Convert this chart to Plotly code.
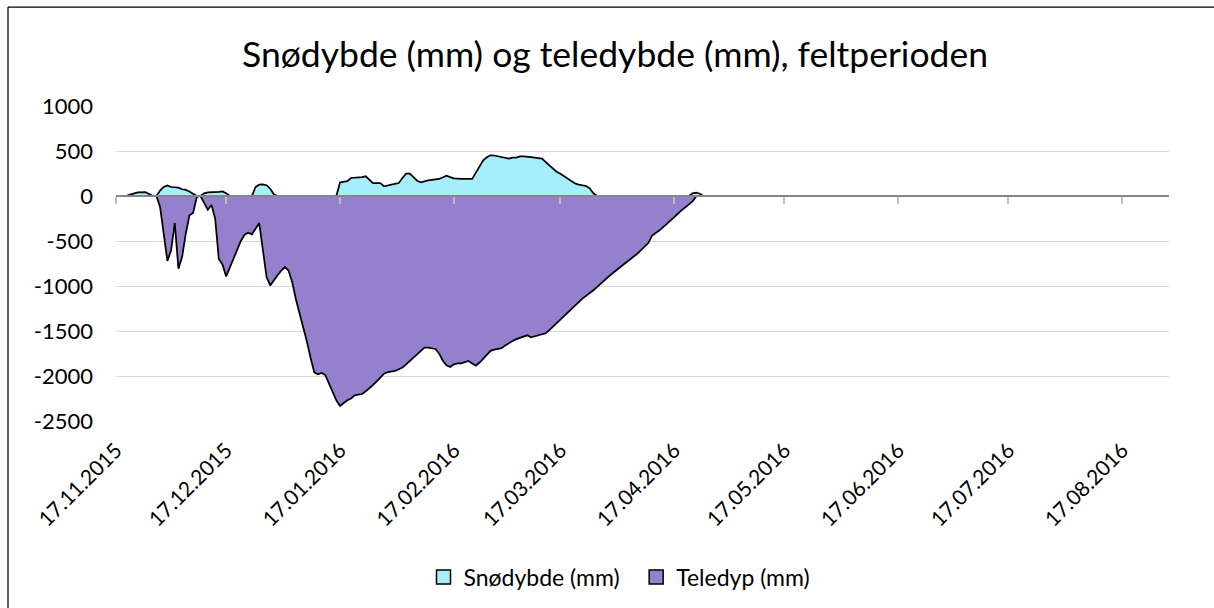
import plotly.graph_objects as go

# ---- data ----
snow_dates = ["2015-11-17","2015-11-20","2015-11-22","2015-11-23","2015-11-25","2015-11-26","2015-11-27",
    "2015-11-28","2015-11-29","2015-11-30","2015-12-01","2015-12-02","2015-12-03","2015-12-04","2015-12-05",
    "2015-12-06","2015-12-07","2015-12-08","2015-12-09","2015-12-10","2015-12-11","2015-12-12","2015-12-14",
    "2015-12-15","2015-12-16","2015-12-17","2015-12-18","2015-12-24","2015-12-25","2015-12-26","2015-12-27",
    "2015-12-28","2015-12-29","2015-12-30","2015-12-31","2016-01-16","2016-01-17","2016-01-18","2016-01-19",
    "2016-01-20","2016-01-22","2016-01-23","2016-01-24","2016-01-25","2016-01-26","2016-01-28","2016-01-29",
    "2016-01-31","2016-02-02","2016-02-03","2016-02-04","2016-02-05","2016-02-06","2016-02-07","2016-02-08",
    "2016-02-10","2016-02-13","2016-02-15","2016-02-16","2016-02-17","2016-02-19","2016-02-22","2016-02-23",
    "2016-02-24","2016-02-25","2016-02-26","2016-02-27","2016-02-28","2016-02-29","2016-03-02","2016-03-03",
    "2016-03-04","2016-03-05","2016-03-06","2016-03-07","2016-03-09","2016-03-11","2016-03-12","2016-03-14",
    "2016-03-16","2016-03-17","2016-03-19","2016-03-21","2016-03-22","2016-03-24","2016-03-25","2016-03-26",
    "2016-03-27","2016-04-21","2016-04-22","2016-04-23","2016-04-24","2016-04-25","2016-08-29"]
snow_mm = [0,5,30,40,44,20,0,
    0,60,100,118,100,100,93,75,
    68,50,20,0,0,30,40,40,
    45,50,30,0,0,100,126,128,
    120,80,20,0,0,150,155,165,
    200,204,210,219,180,144,144,107,
    126,144,200,248,248,210,170,152,
    174,189,226,210,196,189,189,260,
    330,396,430,452,450,441,425,415,
    426,426,440,441,433,420,415,341,
    270,248,193,140,126,111,85,30,
    0,0,30,37,25,0,0]

frost_dates = ["2015-11-17","2015-11-28","2015-11-29","2015-11-30","2015-12-01","2015-12-02","2015-12-03",
    "2015-12-04","2015-12-05","2015-12-06","2015-12-07","2015-12-08","2015-12-09","2015-12-10","2015-12-11",
    "2015-12-12","2015-12-13","2015-12-14","2015-12-15","2015-12-16","2015-12-17","2015-12-18","2015-12-19",
    "2015-12-20","2015-12-21","2015-12-22","2015-12-23","2015-12-24","2015-12-25","2015-12-26","2015-12-27",
    "2015-12-28","2015-12-29","2015-12-30","2015-12-31","2016-01-01","2016-01-02","2016-01-03","2016-01-04",
    "2016-01-05","2016-01-06","2016-01-07","2016-01-08","2016-01-09","2016-01-10","2016-01-11","2016-01-12",
    "2016-01-13","2016-01-14","2016-01-15","2016-01-16","2016-01-17","2016-01-18","2016-01-19","2016-01-20",
    "2016-01-21","2016-01-22","2016-01-23","2016-01-24","2016-01-25","2016-01-26","2016-01-27","2016-01-28",
    "2016-01-29","2016-01-30","2016-01-31","2016-02-01","2016-02-02","2016-02-03","2016-02-04","2016-02-05",
    "2016-02-06","2016-02-07","2016-02-08","2016-02-09","2016-02-10","2016-02-11","2016-02-12","2016-02-13",
    "2016-02-14","2016-02-15","2016-02-16","2016-02-17","2016-02-18","2016-02-19","2016-02-20","2016-02-21",
    "2016-02-22","2016-02-23","2016-02-24","2016-02-25","2016-02-26","2016-02-27","2016-02-28","2016-02-29",
    "2016-03-01","2016-03-02","2016-03-03","2016-03-04","2016-03-05","2016-03-06","2016-03-07","2016-03-08",
    "2016-03-09","2016-03-10","2016-03-11","2016-03-12","2016-03-13","2016-03-14","2016-03-15","2016-03-16",
    "2016-03-17","2016-03-19","2016-03-21","2016-03-23","2016-03-26","2016-03-28","2016-03-30","2016-04-02",
    "2016-04-04","2016-04-07","2016-04-09","2016-04-10","2016-04-11","2016-04-13","2016-04-15","2016-04-17",
    "2016-04-19","2016-04-22","2016-04-23","2016-04-24","2016-08-29"]
frost_mm = [0,0,-122,-456,-722,-604,-300,
    -807,-678,-419,-215,-189,-11,0,-70,
    -152,-100,-250,-700,-760,-893,-790,-690,
    -585,-500,-430,-407,-426,-370,-300,-600,
    -900,-993,-930,-880,-830,-789,-830,-960,
    -1150,-1300,-1450,-1620,-1800,-1960,-1981,-1967,
    -1990,-2080,-2180,-2270,-2333,-2300,-2270,-2250,
    -2215,-2207,-2200,-2170,-2140,-2100,-2060,-2019,
    -1975,-1956,-1948,-1944,-1925,-1905,-1870,-1835,
    -1800,-1760,-1720,-1685,-1685,-1690,-1700,-1752,
    -1830,-1881,-1900,-1870,-1860,-1860,-1850,-1833,
    -1860,-1885,-1850,-1807,-1760,-1720,-1707,-1700,
    -1690,-1660,-1630,-1610,-1590,-1574,-1560,-1548,
    -1570,-1560,-1548,-1540,-1525,-1490,-1450,-1410,
    -1381,-1300,-1215,-1140,-1048,-970,-900,-800,
    -733,-640,-560,-520,-440,-381,-310,-233,
    -160,-59,-4,0,0]

series_names = ["Snødybde (mm)", "Teledyp (mm)"]
series_colors = ["#A6EEFC", "#9580CE"]
title_text = "Snødybde (mm) og teledybde (mm), feltperioden"
x_range = ["2015-11-17", "2016-08-29 18:00"]
y_range = [-2500, 1000]
y_ticks = [1000, 500, 0, -500, -1000, -1500, -2000, -2500]
y_ticklabels = ["1000", "500", "0", "-500", "-1000", "-1500", "-2000", "-2500"]

FONT = "Lato, Carlito, Calibri, sans-serif"

fig = go.Figure()
for xs, ys, name, col in [(snow_dates, snow_mm, series_names[0], series_colors[0]),
                          (frost_dates, frost_mm, series_names[1], series_colors[1])]:
    fig.add_trace(go.Scatter(x=xs, y=ys, mode="lines", fill="tozeroy", fillcolor=col,
                             line=dict(color="black", width=1.75), showlegend=False,
                             hoverinfo="skip"))
# legend swatches (square markers), placed on the overlay axis so it is drawn
for name, col in zip(series_names, series_colors):
    fig.add_trace(go.Scatter(x=[None], y=[None], mode="markers", name=name + "\u2002",
                             xaxis="x2",
                             marker=dict(symbol="square", size=14, color=col,
                                         line=dict(color="black", width=1.5))))

zero_pos = (0 - y_range[0]) / (y_range[1] - y_range[0])

# chart frame (left and top edges visible in the reference)
fx0 = (8 - 116) / 1053
fx1 = (1214 - 116) / 1053
fy1 = (421 - 7) / 315
fy0 = (421 - 608) / 315
frame = [
    dict(type="line", xref="paper", yref="paper", x0=fx0, x1=fx0, y0=fy0, y1=fy1,
         line=dict(color="black", width=1.25), layer="below"),
    dict(type="line", xref="paper", yref="paper", x0=fx0, x1=fx1, y0=fy1, y1=fy1,
         line=dict(color="black", width=1.25), layer="below"),
]

fig.update_layout(
    width=1214, height=608,
    margin=dict(l=116, r=45, t=106, b=187, autoexpand=False),
    paper_bgcolor="white", plot_bgcolor="white",
    font=dict(family=FONT, size=22, color="black"),
    title=dict(text=title_text, x=615/1214, xanchor="center", xref="container",
               y=1 - 55/608, yanchor="middle", yref="container",
               font=dict(family=FONT, size=35.5, color="black")),
    xaxis=dict(type="date", range=x_range, showgrid=False, zeroline=False, showline=False,
               ticks="", tick0="2015-11-17", dtick="M1", tickformat="%d.%m.%Y",
               tickangle=-45, ticklabelstandoff=12,
               tickfont=dict(family=FONT, size=21, color="black")),
    xaxis2=dict(type="date", range=x_range, overlaying="x", anchor="free", position=zero_pos,
                showgrid=False, zeroline=False, showline=True, linecolor="#868686", linewidth=2,
                ticks="outside", ticklen=7, tickwidth=1.5, tickcolor="#BFBFBF",
                tick0="2015-11-17", dtick="M1", showticklabels=False, layer="above traces"),
    yaxis=dict(range=y_range, tickmode="array", tickvals=y_ticks, ticktext=y_ticklabels,
               showgrid=True, gridcolor="#D9D9D9", gridwidth=1,
               zeroline=False, showline=False, ticks="", ticklabelstandoff=22,
               tickfont=dict(family=FONT, size=22, color="black")),
    legend=dict(orientation="h", x=(625-116)/1053, xanchor="center", y=(421-577)/315, yanchor="middle",
                yref="paper", font=dict(family=FONT, size=23, color="black"),
                itemwidth=30, bgcolor="rgba(0,0,0,0)"),
    shapes=frame,
)

fig.write_html("out.html", config={"displayModeBar": False},
               post_script="document.body.style.margin='0';document.body.style.overflow='hidden';")
